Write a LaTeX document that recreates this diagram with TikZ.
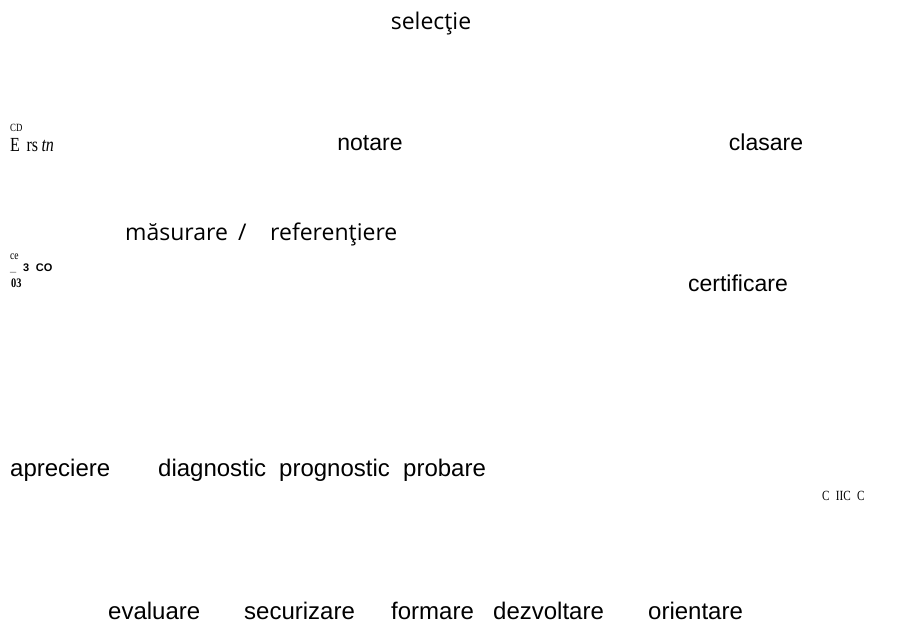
\documentclass[tikz,border=0pt]{standalone}
\usepackage{fontspec}
\setmainfont{Liberation Sans}
\newfontfamily\osans{Open Sans}
\newfontfamily\cserif[FakeStretch=0.8]{Liberation Serif}
\newfontfamily\cserifit[FakeStretch=0.8]{Liberation Serif Italic}
\begin{document}
\begin{tikzpicture}[x=1pt,y=-1pt,
  word/.style={inner sep=0pt,anchor=base,font=\fontsize{23}{27}\selectfont},
  wordw/.style={inner sep=0pt,anchor=base west,font=\fontsize{24}{28}\selectfont},
  osw/.style={inner sep=0pt,anchor=base west,font=\osans\fontsize{23}{27}\selectfont},
  junk/.style={inner sep=0pt,anchor=base west}]
\path[use as bounding box,fill=white] (0,0) rectangle (898,629);
% top
\node[inner sep=0pt,anchor=base,font=\osans\fontsize{23}{27}\selectfont] (sel) at (431,29) {selecţie};
\node[junk,font=\cserif\fontsize{11}{12}\selectfont] (cd) at (10,131) {CD};
\node[junk,font=\cserif\fontsize{20}{22}\selectfont] (ers) at (10,151) {E\,\,rs\,{\cserifit tn}};
\node[word] (not) at (370,150) {notare};
\node[word] (cla) at (766,150) {clasare};
% middle
\node[junk,font=\cserif\fontsize{12}{13}\selectfont] (ce) at (10,259) {ce};
\node[junk,font=\bfseries\fontsize{11}{12}\selectfont] (tco) at (10,271) {\_\,\, 3\,\, CO};
\node[junk,font=\cserif\bfseries\fontsize{13}{14}\selectfont] (zt) at (11,287) {03};
\node[osw] (mas) at (125,240) {măsurare};
\node[osw] (sl) at (238,240) {/};
\node[osw] (ref) at (270,240) {referenţiere};
\node[word] (cer) at (738,291) {certificare};
% lower
\node[wordw] (apr) at (10,476) {apreciere};
\node[wordw] (dia) at (158,476) {diagnostic};
\node[wordw] (pro) at (279,476) {prognostic};
\node[wordw] (prb) at (403,476) {probare};
\node[junk,font=\cserif\fontsize{14}{15}\selectfont] (cdc) at (822,500) {C\;\,IIC\;\,C};
% bottom
\node[wordw] (eva) at (108,619) {evaluare};
\node[wordw] (sec) at (244,619) {securizare};
\node[wordw] (for) at (391,619) {formare};
\node[wordw] (dez) at (493,619) {dezvoltare};
\node[wordw] (ori) at (648,619) {orientare};
\end{tikzpicture}
\end{document}
